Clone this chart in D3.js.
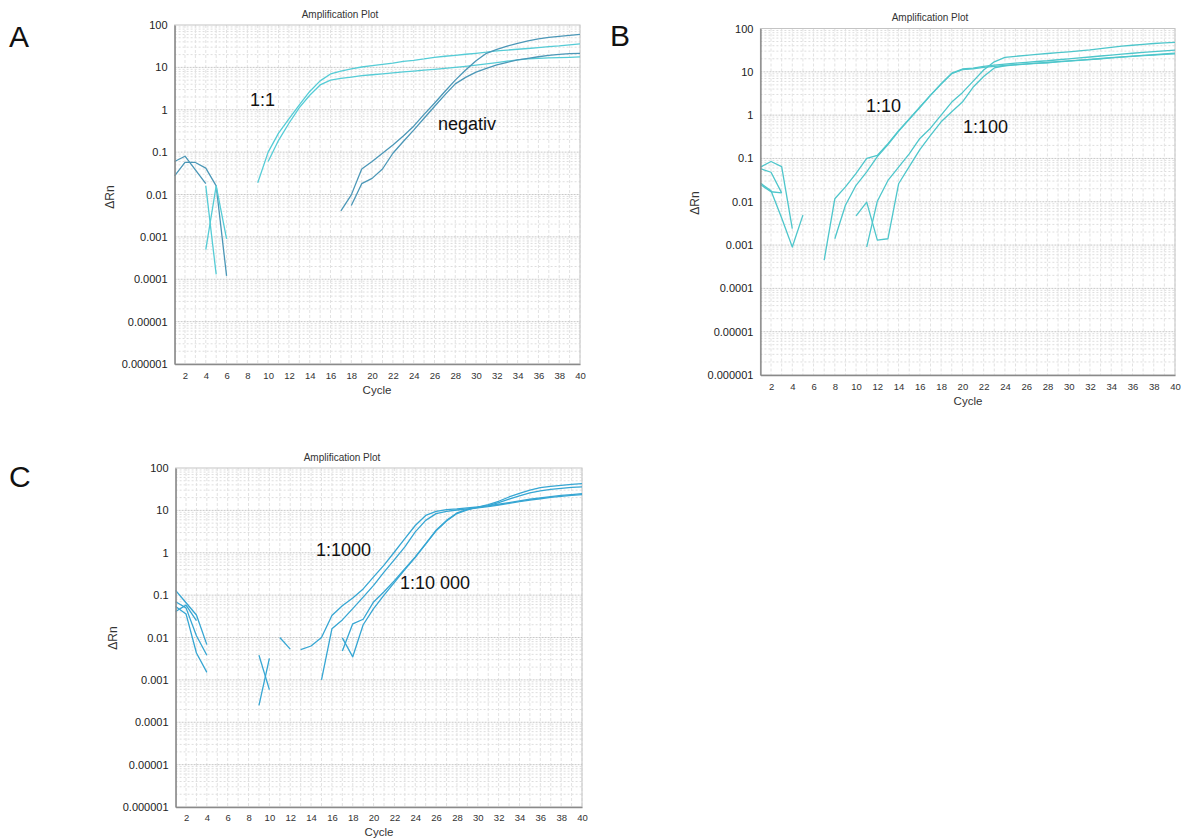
<!DOCTYPE html>
<html>
<head>
<meta charset="utf-8">
<script src="https://cdn.jsdelivr.net/npm/d3@7"></script>
<style>
  body { margin: 0; background: #fff; }
  svg text { font-family: "Liberation Sans", Arial, sans-serif; }
</style>
</head>
<body>
<svg id="chart" width="1181" height="840"></svg>
<script>
/* DATA */
const cycles = [1,2,3,4,5,6,7,8,9,10,11,12,13,14,15,16,17,18,19,20,
  21,22,23,24,25,26,27,28,29,30,31,32,33,34,35,36,37,38,39,40];
const xTicks = [2,4,6,8,10,12,14,16,18,20,22,24,26,28,30,32,34,36,38,40];
const yTicks = [1e-6, 1e-5, 1e-4, 1e-3, 1e-2, 1e-1, 1, 10, 100];
const yTickLabels = ["0.000001","0.00001","0.0001","0.001","0.01","0.1","1","10","100"];

// a curve starts at some cycle; cycles before it (or negative ΔRn) are not drawn
function at(start, vals) {
  return cycles.map(c => {
    const v = vals[c - start];
    return (c >= start && v != null) ? v : null;
  });
}

// A: 1:1 and negativ
const A_one_a = at(9, [0.019, 0.1, 0.28, 0.61, 1.3, 2.7, 4.8, 7.0, 8.2, 9.2, 10.2, 11, 11.8, 12.6,
  13.9, 14.7, 15.8, 17.3, 18.3, 19.3, 20.4, 21.5, 22.8, 24.5, 25.6, 26.8, 27.9, 29.2, 30.8, 32, 33.8, 35.7]);
const A_one_b = at(10, [0.06, 0.19, 0.48, 1.12, 2.2, 3.85, 5.0, 5.5, 5.9, 6.4, 6.7, 7.0, 7.4, 7.8,
  8.2, 8.6, 9.0, 9.5, 10.0, 10.6, 11.3, 12.1, 13.0, 14.0, 15.0, 15.8, 16.3, 16.7, 17.0, 17.3, 17.6]);
const A_neg_a = at(17, [0.0041, 0.0098, 0.04, 0.06, 0.094, 0.148, 0.24, 0.41, 0.78, 1.42, 2.7, 5.0,
  8.7, 14.4, 21.5, 26.7, 31.9, 37, 42, 47, 51, 54, 57, 60]);
const A_neg_b = at(18, [0.0055, 0.018, 0.024, 0.04, 0.094, 0.178, 0.33, 0.63, 1.19, 2.24, 4.07, 5.8,
  7.7, 9.5, 11.4, 13.2, 15, 16.4, 17.8, 19.1, 20.3, 21, 21.5]);
const A_noise1 = at(1, [0.06, 0.08, 0.038, 0.018]);
const A_noise2 = at(1, [0.0275, 0.057, 0.057, 0.042, 0.016, 0.00012]);
const A_noise3 = at(4, [0.016, 0.00013]);
const A_noise4 = at(4, [0.0005, 0.016, 0.0009]);

// B: 1:10 and 1:100
const B_ten_a = at(7, [0.00045, 0.0117, 0.022, 0.045, 0.1, 0.117, 0.22, 0.44, 0.82, 1.54, 2.9, 5.3,
  9.3, 11.6, 12.2, 13.3, 14.2, 15, 15.8, 16.5, 17.3, 18, 19, 20, 21, 22, 23.2, 24.4, 25.6, 26.8,
  28, 29.2, 30.4, 31.6]);
const B_ten_b = at(8, [0.0014, 0.0083, 0.024, 0.049, 0.11, 0.21, 0.42, 0.8, 1.5, 2.85, 5.2, 9.1,
  11.2, 11.7, 12.6, 13.3, 14, 14.6, 15.2, 15.8, 16.4, 17.1, 17.8, 18.6, 19.4, 20.3, 21.2, 22.1,
  23, 24, 25, 26, 27]);
const B_hundred_a = at(11, [0.0009, 0.0103, 0.031, 0.063, 0.128, 0.29, 0.5, 1.0, 2.0, 3.3, 6.0, 11,
  17, 21.5, 22.8, 24, 25.2, 26.5, 27.8, 29, 30.4, 32, 34.2, 36.8, 39, 41, 43, 45, 46.5, 48]);
const B_hundred_b = at(10, [0.0047, 0.0098, 0.0013, 0.0014, 0.026, 0.065, 0.16, 0.34, 0.7, 1.2, 2.0,
  4.4, 7.8, 12.3, 13.8, 14.4, 15, 15.6, 16.2, 16.9, 17.6, 18.4, 19.2, 20, 20.9, 21.8, 22.7, 23.6,
  24.4, 25.2, 26]);
const B_noise1 = at(1, [0.063, 0.085, 0.065, 0.0024]);
const B_noise2 = at(1, [0.058, 0.048, 0.016]);
const B_noise3 = at(1, [0.027, 0.018, 0.0042, 0.0009, 0.0049]);
const B_noise4 = at(1, [0.025, 0.017, 0.016]);

// C: 1:1000 and 1:10 000
const C_thousand_a = at(13, [0.0052, 0.0063, 0.01, 0.033, 0.056, 0.086, 0.14, 0.27, 0.51, 1.04,
  2.15, 4.4, 7.6, 9.5, 10.4, 10.8, 11.4, 12, 12.8, 14, 15.3, 16.8, 18.3, 19.8, 21.2, 22.5, 23.6, 24.8]);
const C_thousand_b = at(15, [0.001, 0.016, 0.026, 0.048, 0.09, 0.17, 0.35, 0.69, 1.37, 3.1, 5.8,
  8.4, 9.5, 10.2, 10.8, 11.5, 12.3, 13.4, 14.6, 16, 17.4, 18.8, 20.2, 21.5, 22.6, 23.6]);
const C_tenthousand_a = at(17, [0.0048, 0.021, 0.027, 0.069, 0.12, 0.22, 0.42, 0.8, 1.64, 3.4, 5.8,
  8.7, 10.6, 12, 13.6, 16.4, 20.7, 25.2, 30.2, 34.4, 36.9, 39, 41.2, 42.6]);
const C_tenthousand_b = at(17, [0.0098, 0.0035, 0.02, 0.048, 0.1, 0.2, 0.4, 0.78, 1.6, 3.3, 5.6,
  8.4, 10.3, 11.8, 13, 15.2, 18.5, 22, 25.8, 28.8, 31.2, 33.2, 34.8, 36]);
const C_noise1 = at(1, [0.13, 0.066, 0.034, 0.0068]);
const C_noise2 = at(1, [0.07, 0.05, 0.011, 0.0038]);
const C_noise3 = at(1, [0.054, 0.036, 0.0043, 0.0015]);
const C_noise4 = at(1, [0.041, 0.058, 0.025]);
const C_noise5 = at(9, [0.0038, 0.00059]);
const C_noise6 = at(9, [0.00025, 0.0032]);
const C_noise7 = at(11, [0.01, 0.0053]);

/* COLORS */
const cyanA = "#55ccd6", darkA = "#4b97b7", cyanB = "#4ec6cb", blueC = "#36a6d3";

/* PANELS (layout) */
const panels = [
  { letter: "A", lx: 9, ly: 47, x0: 174.6, x1: 580, y0: 25, y1: 364,
    titleX: 340, titleY: 18, cycleX: 377, cycleY: 394, rnX: 110, rnY: 197, xPad: 8,
    series: [[A_noise1, darkA], [A_noise2, darkA], [A_noise3, cyanA], [A_noise4, cyanA],
             [A_one_a, cyanA], [A_one_b, cyanA], [A_neg_b, darkA], [A_neg_a, darkA]],
    notes: [["1:1", 250, 106], ["negativ", 438, 130]] },
  { letter: "B", lx: 610, ly: 46, x0: 760.4, x1: 1175, y0: 28.5, y1: 375,
    titleX: 930, titleY: 21, cycleX: 968, cycleY: 405, rnX: 695, rnY: 203, xPad: 8,
    series: [[B_noise1, cyanB], [B_noise2, cyanB], [B_noise3, cyanB], [B_noise4, cyanB],
             [B_ten_a, cyanB], [B_ten_b, cyanB], [B_hundred_a, cyanB], [B_hundred_b, cyanB]],
    notes: [["1:10", 866, 112], ["1:100", 963, 133]] },
  { letter: "C", lx: 9, ly: 487, x0: 175.6, x1: 582, y0: 468, y1: 807,
    titleX: 342, titleY: 461, cycleX: 379, cycleY: 836, rnX: 113, rnY: 638, xPad: 7,
    series: [[C_noise1, blueC], [C_noise2, blueC], [C_noise3, blueC], [C_noise4, blueC],
             [C_noise5, blueC], [C_noise6, blueC], [C_noise7, blueC],
             [C_thousand_a, blueC], [C_thousand_b, blueC], [C_tenthousand_a, blueC], [C_tenthousand_b, blueC]],
    notes: [["1:1000", 316, 556], ["1:10 000", 400, 589]] }
];

const svg = d3.select("#chart");
svg.append("rect").attr("width", 1181).attr("height", 840).attr("fill", "#fff");

panels.forEach(drawPanel);

function drawPanel(p) {
  const x = d3.scaleLinear().domain([1, 40]).range([p.x0, p.x1]);
  const y = d3.scaleLog().domain([1e-6, 100]).range([p.y1, p.y0]);
  const g = svg.append("g");

  // grid
  const minor = yTicks.slice(0, -1).flatMap(d => [2,3,4,5,6,7,8,9].map(k => k * d));
  g.append("g").selectAll("line").data(minor).join("line")
    .attr("x1", p.x0).attr("x2", p.x1)
    .attr("y1", d => y(d)).attr("y2", d => y(d))
    .attr("stroke", "#dedede").attr("stroke-dasharray", "2,2");
  g.append("g").selectAll("line").data(cycles.slice(1)).join("line")
    .attr("x1", d => x(d)).attr("x2", d => x(d))
    .attr("y1", p.y0).attr("y2", p.y1)
    .attr("stroke", "#e2e2e2").attr("stroke-dasharray", "3,2");
  g.append("g").selectAll("line").data(yTicks.slice(1, -1)).join("line")
    .attr("x1", p.x0).attr("x2", p.x1)
    .attr("y1", d => y(d)).attr("y2", d => y(d))
    .attr("stroke", "#c9c9c9").attr("stroke-dasharray", "2,1");

  g.append("rect")
    .attr("x", p.x0).attr("y", p.y0)
    .attr("width", p.x1 - p.x0).attr("height", p.y1 - p.y0)
    .attr("fill", "none").attr("stroke", "#c4c4c4");

  // curves
  const line = d3.line()
    .defined(d => d.v != null)
    .x(d => x(d.c))
    .y(d => y(d.v));
  g.append("g").selectAll("path").data(p.series).join("path")
    .attr("d", s => line(s[0].map((v, i) => ({ c: cycles[i], v: v }))))
    .attr("fill", "none")
    .attr("stroke", s => s[1])
    .attr("stroke-width", 1.3)
    .attr("stroke-linejoin", "round");

  // axes
  const xAxis = d3.axisBottom(x).tickValues(xTicks).tickSize(0).tickPadding(p.xPad);
  const yAxis = d3.axisLeft(y).tickValues(yTicks)
    .tickFormat(d => yTickLabels[yTicks.indexOf(d)]).tickSize(0).tickPadding(7);

  const xg = g.append("g").attr("transform", `translate(0,${p.y1})`).call(xAxis);
  xg.selectAll("text").attr("font-size", 9.5).attr("fill", "#333");
  const yg = g.append("g").attr("transform", `translate(${p.x0},0)`).call(yAxis);
  yg.selectAll("text").attr("font-size", 11).attr("fill", "#222");
  g.selectAll(".domain").attr("stroke", "#8a8a8a").attr("stroke-width", 1.5);

  // texts
  g.append("text").attr("x", p.titleX).attr("y", p.titleY)
    .attr("text-anchor", "middle").attr("font-size", 10).attr("fill", "#333")
    .text("Amplification Plot");
  g.append("text").attr("x", p.cycleX).attr("y", p.cycleY)
    .attr("text-anchor", "middle").attr("font-size", 11.5).attr("fill", "#333")
    .text("Cycle");
  g.append("text")
    .attr("transform", `translate(${p.rnX + 4},${p.rnY}) rotate(-90)`)
    .attr("text-anchor", "middle").attr("font-size", 12).attr("fill", "#333")
    .text("ΔRn");
  g.append("text").attr("x", p.lx).attr("y", p.ly)
    .attr("font-size", 30).attr("fill", "#111")
    .text(p.letter);
  g.selectAll(".note").data(p.notes).join("text")
    .attr("class", "note")
    .attr("x", d => d[1]).attr("y", d => d[2])
    .attr("font-size", 18).attr("fill", "#111")
    .text(d => d[0]);
}
</script>
</body>
</html>
